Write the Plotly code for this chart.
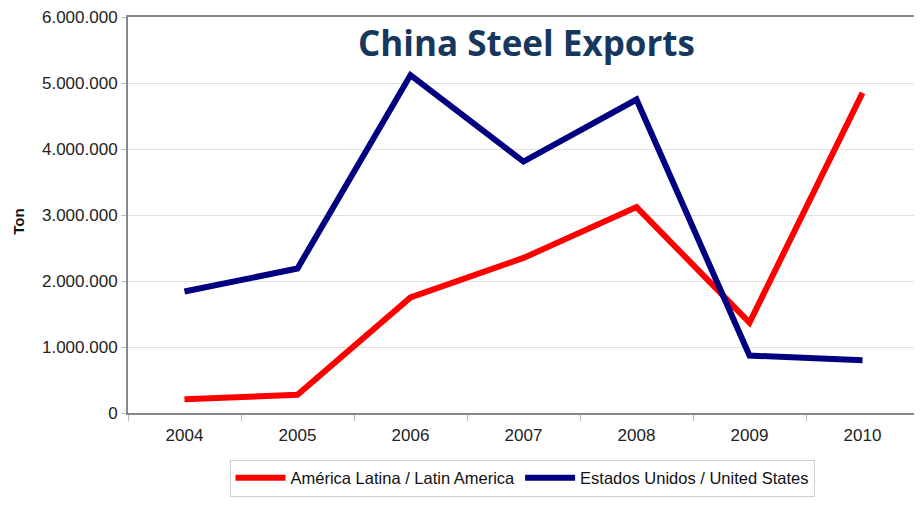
import plotly.graph_objects as go

years = ["2004", "2005", "2006", "2007", "2008", "2009", "2010"]
latin_america = [210000, 275000, 1750000, 2350000, 3120000, 1370000, 4850000]
united_states = [1840000, 2190000, 5120000, 3810000, 4750000, 870000, 800000]
y_ticks = [0, 1000000, 2000000, 3000000, 4000000, 5000000, 6000000]

fig = go.Figure()
fig.add_trace(go.Scatter(x=years, y=latin_america, mode="lines",
                         name="América Latina / Latin America",
                         line=dict(color="#FF0000", width=6)))
fig.add_trace(go.Scatter(x=years, y=united_states, mode="lines",
                         name="Estados Unidos / United States",
                         line=dict(color="#000080", width=6)))

# page body has an 8px margin: plot area targets screen x 128..918, y 16..415
W, T, PH = 913, 8, 399
PW = W - 120
fig.update_layout(
    width=W, height=489,
    margin=dict(l=120, r=0, t=T, b=489 - T - PH),
    paper_bgcolor="white", plot_bgcolor="white",
    separators=",.",
    font=dict(family="Liberation Sans, Arial, sans-serif", size=16, color="#222"),
    showlegend=True,
    legend=dict(orientation="h", x=(523 - 128) / PW, xanchor="center",
                y=-(462 - 415) / PH, yanchor="top",
                bordercolor="#D0D0D0", borderwidth=1, font=dict(size=16.5, color="#111"),
                itemwidth=50, tracegroupgap=0),
    annotations=[
        dict(text="<b>China Steel Exports</b>", x=(528 - 128) / PW, y=(415 - 42) / PH,
             xref="paper", yref="paper", xanchor="center", yanchor="middle", showarrow=False,
             font=dict(family="Open Sans, sans-serif", size=35, color="#17375E")),
        dict(text="<b>Ton</b>", x=(18 - 128) / PW, y=(415 - 222) / PH,
             xref="paper", yref="paper", xanchor="center", yanchor="middle", showarrow=False,
             textangle=-90, font=dict(size=15, color="#111")),
    ],
)

fig.update_xaxes(type="category", range=[-0.5, 6.5], showline=True, linecolor="#888",
                 linewidth=2, mirror=True,
                 ticks="outside", tickson="boundaries", ticklen=6, tickcolor="#BBB",
                 ticklabelstandoff=6,
                 showgrid=False, tickfont=dict(size=17, color="#222"))
fig.update_yaxes(range=[0, 6000000], tickvals=y_ticks, tickformat=",.0f",
                 ticklabeloverflow="allow",
                 showline=True, linecolor="#888", linewidth=2, mirror=True,
                 ticks="outside", ticklen=5, tickcolor="#BBB",
                 showgrid=True, gridcolor="#E0E0E0", gridwidth=1, zeroline=False,
                 tickfont=dict(size=17, color="#222"))

fig.write_html("out.html")
